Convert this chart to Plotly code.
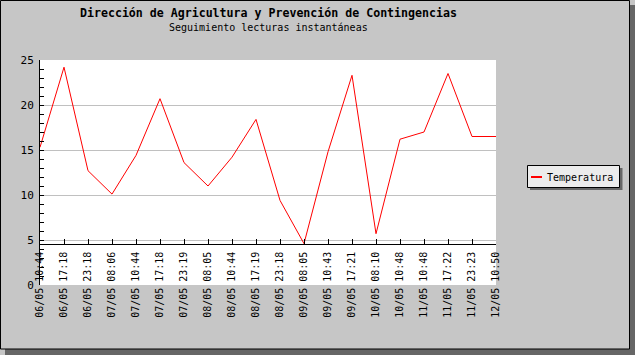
import plotly.graph_objects as go

# ---- data ----
categories = ["06/05 10:44", "06/05 17:18", "06/05 23:18", "07/05 08:06", "07/05 10:44",
              "07/05 17:18", "07/05 23:19", "08/05 08:05", "08/05 10:44", "08/05 17:19",
              "08/05 23:18", "09/05 08:05", "09/05 10:43", "09/05 17:21", "10/05 08:10",
              "10/05 10:48", "11/05 10:48", "11/05 17:22", "11/05 23:23", "12/05 10:50"]
temperatura = [15.3, 24.2, 12.7, 10.1, 14.4, 20.7, 13.6, 11.0, 14.2, 18.4,
               9.4, 4.6, 14.8, 23.3, 5.7, 16.2, 17.0, 23.5, 16.5, 16.5]
y_ticks = [0, 5, 10, 15, 20, 25]
series_name = "Temperatura"
title = "Dirección de Agricultura y Prevención de Contingencias"
subtitle = "Seguimiento lecturas instantáneas"

# ---- layout geometry ----
W, H = 635, 355
L, R, T, B = 40, 496, 60, 285
pw, ph = R - L, B - T
ymax = 25

def px(x):
    return (x - L) / pw

def py(y):
    return (B - y) / ph

MONO = "DejaVu Sans Mono"
BG = "#c6c6c6"

fig = go.Figure()
fig.add_trace(go.Scatter(x=categories, y=temperatura, mode="lines", name=series_name,
                         line=dict(color="#ff0000", width=1), showlegend=False))

shapes = [
    # shadow of image frame
    dict(type="rect", xref="paper", yref="paper", x0=px(5), x1=px(635), y0=py(349), y1=py(355),
         fillcolor="#666666", line=dict(width=0), layer="below"),
    dict(type="rect", xref="paper", yref="paper", x0=px(629.5), x1=px(635), y0=py(5), y1=py(355),
         fillcolor="#666666", line=dict(width=0), layer="below"),
    # frame
    dict(type="rect", xref="paper", yref="paper", x0=px(0.5), x1=px(629.5), y0=py(0.5), y1=py(349),
         fillcolor="rgba(0,0,0,0)", line=dict(color="black", width=1), layer="above"),
    # legend shadow + box
    dict(type="rect", xref="paper", yref="paper", x0=px(530), x1=px(622.5), y0=py(168), y1=py(190),
         fillcolor="#666666", line=dict(width=0), layer="above"),
    dict(type="rect", xref="paper", yref="paper", x0=px(527.5), x1=px(619.5), y0=py(165.5), y1=py(187.5),
         fillcolor="#ececec", line=dict(color="black", width=1), layer="above"),
    dict(type="line", xref="paper", yref="paper", x0=px(531), x1=px(542), y0=py(177), y1=py(177),
         line=dict(color="#ff0000", width=2), layer="above"),
]

annotations = [
    dict(text="<b>" + title + "</b>", xref="paper", yref="paper", x=px(268), y=py(13),
         xanchor="center", yanchor="middle", showarrow=False,
         font=dict(family=MONO, size=11.6, color="black")),
    dict(text=subtitle, xref="paper", yref="paper", x=px(268), y=py(28),
         xanchor="center", yanchor="middle", showarrow=False,
         font=dict(family=MONO, size=10, color="black")),
    dict(text=series_name, xref="paper", yref="paper", x=px(545), y=py(177),
         xanchor="left", yanchor="middle", showarrow=False,
         font=dict(family=MONO, size=10, color="black")),
]

fig.update_layout(
    width=W, height=H,
    margin=dict(l=L, r=W - R, t=T, b=H - B, pad=0),
    paper_bgcolor=BG, plot_bgcolor="white",
    showlegend=False,
    shapes=shapes, annotations=annotations,
    font=dict(family=MONO, color="black"),
    xaxis=dict(
        type="category", range=[0, len(categories) - 1],
        anchor="free", position=min(temperatura) / ymax,
        showline=True, linecolor="black", linewidth=1,
        ticks="inside", ticklen=5, tickcolor="black",
        tickangle=-90, tickfont=dict(family=MONO, size=10, color="black"),
        ticklabelstandoff=3,
        showgrid=False, zeroline=False, automargin=False,
    ),
    yaxis=dict(
        range=[0, ymax], tickvals=y_ticks,
        showline=True, linecolor="black", linewidth=1,
        ticks="inside", ticklen=4, tickcolor="black",
        minor=dict(ticks="inside", dtick=1, ticklen=4, tickcolor="black", showgrid=False),
        tickfont=dict(family=MONO, size=11, color="black"),
        ticklabelstandoff=3,
        showgrid=True, gridcolor="#c0c0c0", gridwidth=1,
        zeroline=False, automargin=False,
    ),
)

fig.write_html("out.html",
               config={"displayModeBar": False},
               post_script="document.body.style.margin='0';document.body.style.padding='0';")
